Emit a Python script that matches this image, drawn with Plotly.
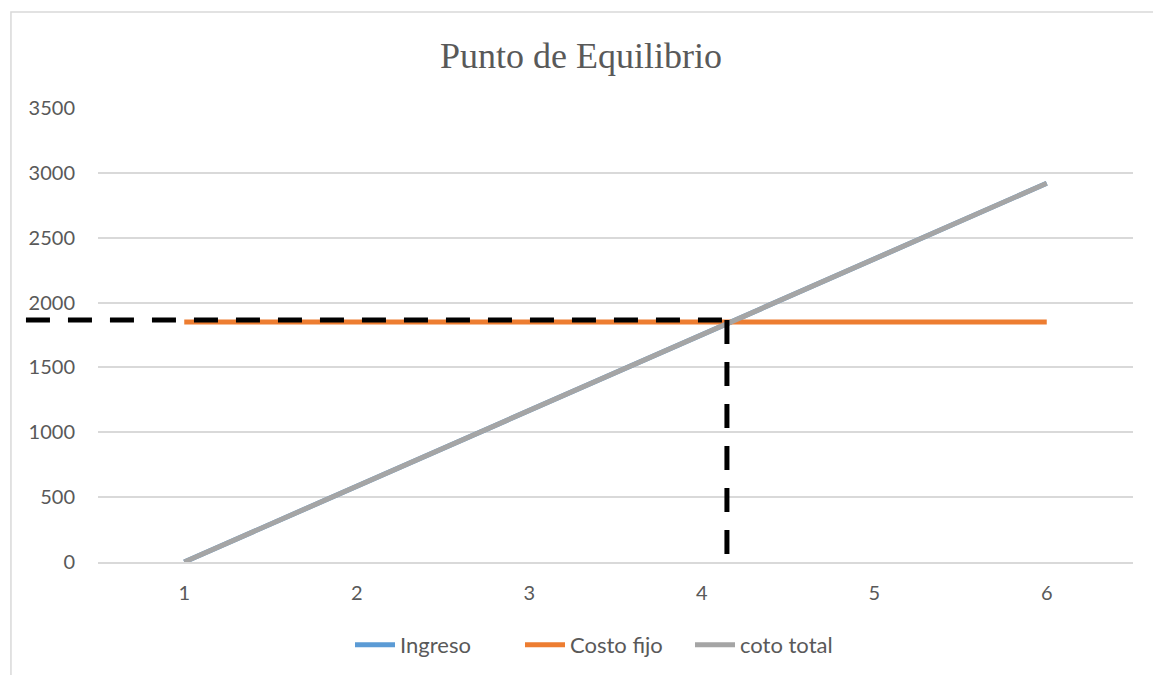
import plotly.graph_objects as go

categories = [1, 2, 3, 4, 5, 6]
ingreso = [0, 584, 1168, 1752, 2336, 2920]
costo_fijo = [1850, 1850, 1850, 1850, 1850, 1850]
coto_total = [0, 584, 1168, 1752, 2336, 2920]
y_ticks = [0, 500, 1000, 1500, 2000, 2500, 3000, 3500]
breakeven_x = 4.146
breakeven_y = 1866
vertical_bottom = 45

title_text = "Punto de Equilibrio"

W, H = 1153, 667  # page body has an 8px margin

fig = go.Figure()
fig.add_trace(go.Scatter(x=categories, y=ingreso, mode="lines", name="Ingreso",
                         line=dict(color="#5B9BD5", width=5)))
fig.add_trace(go.Scatter(x=categories, y=costo_fijo, mode="lines", name="Costo fijo",
                         line=dict(color="#ED7D31", width=5)))
fig.add_trace(go.Scatter(x=categories, y=coto_total, mode="lines", name="coto total",
                         line=dict(color="#A5A5A5", width=5)))

# Chart frame
fig.add_shape(type="rect", xref="paper", yref="paper",
              x0=-0.0841, x1=1.05, y0=-0.3, y1=1.2115,
              line=dict(color="#D9D9D9", width=1.5), layer="below")

# Dashed break-even lines
fig.add_shape(type="line", xref="paper", yref="y",
              x0=-0.0696, x1=(breakeven_x - 0.5) / 6.0, y0=breakeven_y, y1=breakeven_y,
              line=dict(color="black", width=5, dash="24px,18px"), layer="above")
fig.add_shape(type="line", xref="x", yref="y",
              x0=breakeven_x, x1=breakeven_x, y0=breakeven_y, y1=vertical_bottom,
              line=dict(color="black", width=5, dash="24px,18px"), layer="above")

fig.update_layout(
    width=W, height=H,
    margin=dict(l=90, r=28, t=100, b=113),
    paper_bgcolor="white", plot_bgcolor="white",
    title=dict(text=title_text, x=573 / W, xref="container", xanchor="center",
               y=1 - 47 / H, yref="container", yanchor="middle",
               font=dict(family="Liberation Serif", size=36, color="#595959")),
    font=dict(family="Lato", size=20, color="#595959"),
    showlegend=True,
    legend=dict(orientation="h", x=597 / W, xanchor="center", xref="container",
                y=1 - 637 / H, yref="container", yanchor="middle",
                font=dict(family="Lato", size=22, color="#595959"),
                itemwidth=40, tracegroupgap=0,
                entrywidth=115, entrywidthmode="pixels"),
    xaxis=dict(range=[0.5, 6.5], tickmode="array", tickvals=categories,
               ticktext=[str(c) for c in categories],
               showgrid=False, zeroline=False, showline=True, linecolor="#D9D9D9",
               linewidth=1.5, ticks="", ticklabelstandoff=12,
               tickfont=dict(family="Lato", size=20, color="#595959")),
    yaxis=dict(range=[0, 3500], tickmode="array", tickvals=y_ticks,
               showgrid=True, gridcolor="#D9D9D9", gridwidth=1.5, zeroline=False,
               showline=False, ticks="", ticklabelstandoff=22,
               tickfont=dict(family="Lato", size=20, color="#595959")),
)

fig.write_html("out.html")
